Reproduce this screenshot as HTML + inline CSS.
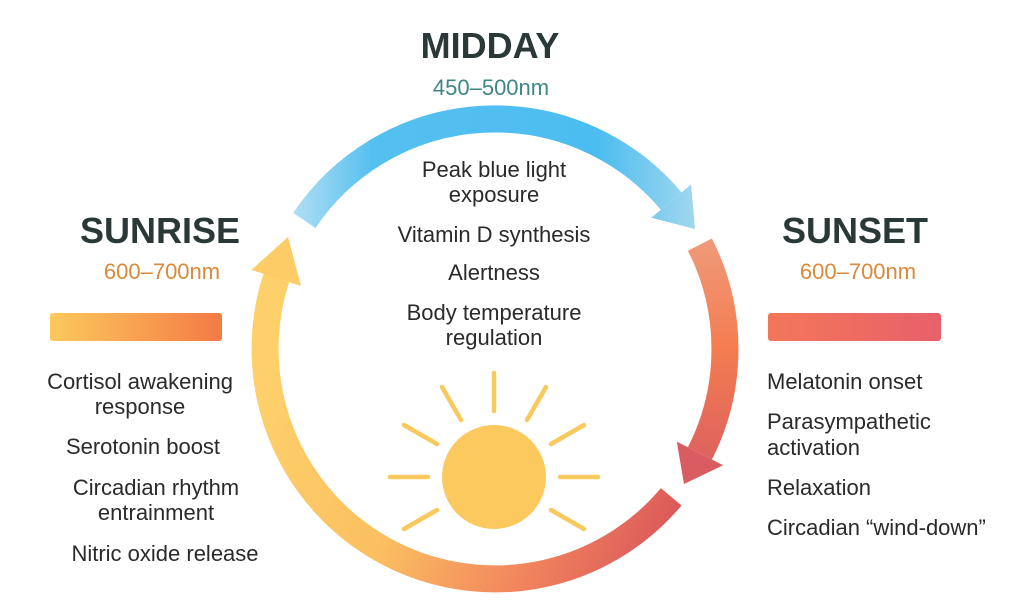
<!DOCTYPE html>
<html><head><meta charset="utf-8"><style>
html,body{margin:0;padding:0;background:#fff;}
svg{display:block;font-family:"Liberation Sans",sans-serif;}
</style></head><body>
<svg width="1024" height="613" viewBox="0 0 1024 613" xmlns="http://www.w3.org/2000/svg">
<defs>
<linearGradient id="gTop" gradientUnits="userSpaceOnUse" x1="290" y1="0" x2="700" y2="0">
<stop offset="0" stop-color="#b5e0f2"/><stop offset="0.2" stop-color="#55c0f0"/><stop offset="0.75" stop-color="#4cbdf0"/><stop offset="1" stop-color="#a5d8ee"/></linearGradient>
<linearGradient id="gRight" gradientUnits="userSpaceOnUse" x1="0" y1="240" x2="0" y2="485">
<stop offset="0" stop-color="#ef9a7a"/><stop offset="0.45" stop-color="#f47c50"/><stop offset="1" stop-color="#d85c62"/></linearGradient>
<linearGradient id="gBot" gradientUnits="userSpaceOnUse" x1="680" y1="500" x2="290" y2="330">
<stop offset="0" stop-color="#dc5a5a"/><stop offset="0.3" stop-color="#f38a5e"/><stop offset="0.6" stop-color="#fbbf60"/><stop offset="1" stop-color="#fdd06a"/></linearGradient>
<linearGradient id="gBarL" x1="0" y1="0" x2="1" y2="0"><stop offset="0" stop-color="#fcc95c"/><stop offset="1" stop-color="#f47a46"/></linearGradient>
<linearGradient id="gBarR" x1="0" y1="0" x2="1" y2="0"><stop offset="0" stop-color="#f4765a"/><stop offset="1" stop-color="#e8606a"/></linearGradient>
</defs>

<path d="M304.3 220.4 A230 230 0 0 1 671.2 201.1" fill="none" stroke="url(#gTop)" stroke-width="27"/>
<polygon points="651.3,217.8 691.1,184.4 695,229" fill="url(#gTop)"/>
<path d="M699.9 244.6 A230 230 0 0 1 699.9 453.4" fill="none" stroke="url(#gRight)" stroke-width="27"/>
<polygon points="676.8,441.6 723.1,465.2 684,484" fill="#d85c62"/>
<path d="M671.2 496.8 A230 230 0 0 1 276.3 277.9" fill="none" stroke="url(#gBot)" stroke-width="27"/>
<polygon points="301,286 251.5,269.9 288,237" fill="#fdcc66"/>

<circle cx="494" cy="477" r="52" fill="#fbc95e"/>
<g stroke="#f9c95e" stroke-width="4.5" stroke-linecap="round">
<line x1="560" y1="477" x2="598" y2="477"/>
<line x1="428" y1="477" x2="390" y2="477"/>
<line x1="494" y1="411" x2="494" y2="373"/>
<line x1="527" y1="420" x2="546" y2="387"/>
<line x1="461" y1="420" x2="442" y2="387"/>
<line x1="551" y1="444" x2="584" y2="425"/>
<line x1="437" y1="444" x2="404" y2="425"/>
<line x1="551" y1="510" x2="584" y2="529"/>
<line x1="437" y1="510" x2="404" y2="529"/>
</g>

<g font-weight="bold" fill="#2b3838" font-size="36" text-anchor="middle">
<text x="490" y="58">MIDDAY</text>
<text x="160" y="243">SUNRISE</text>
<text x="855" y="243">SUNSET</text>
</g>
<text x="491" y="95" font-size="22" fill="#3e8783" text-anchor="middle">450–500nm</text>
<text x="162" y="279" font-size="22" fill="#d98a3a" text-anchor="middle">600–700nm</text>
<text x="858" y="279" font-size="22" fill="#d98a3a" text-anchor="middle">600–700nm</text>

<rect x="50" y="313" width="172" height="28" rx="3" fill="url(#gBarL)"/>
<rect x="768" y="313" width="173" height="28" rx="3" fill="url(#gBarR)"/>

<g font-size="22" fill="#2a2a2a" text-anchor="middle">
<text x="494" y="177">Peak blue light</text>
<text x="494" y="202">exposure</text>
<text x="494" y="242">Vitamin D synthesis</text>
<text x="494" y="280">Alertness</text>
<text x="494" y="320">Body temperature</text>
<text x="494" y="345">regulation</text>

<text x="140" y="389">Cortisol awakening</text>
<text x="140" y="414">response</text>
<text x="143" y="454">Serotonin boost</text>
<text x="156" y="495">Circadian rhythm</text>
<text x="156" y="520">entrainment</text>
<text x="165" y="561">Nitric oxide release</text>
</g>
<g font-size="22" fill="#2a2a2a">
<text x="767" y="389">Melatonin onset</text>
<text x="767" y="429">Parasympathetic</text>
<text x="767" y="455">activation</text>
<text x="767" y="495">Relaxation</text>
<text x="767" y="535">Circadian “wind-down”</text>
</g>
</svg>
</body></html>
